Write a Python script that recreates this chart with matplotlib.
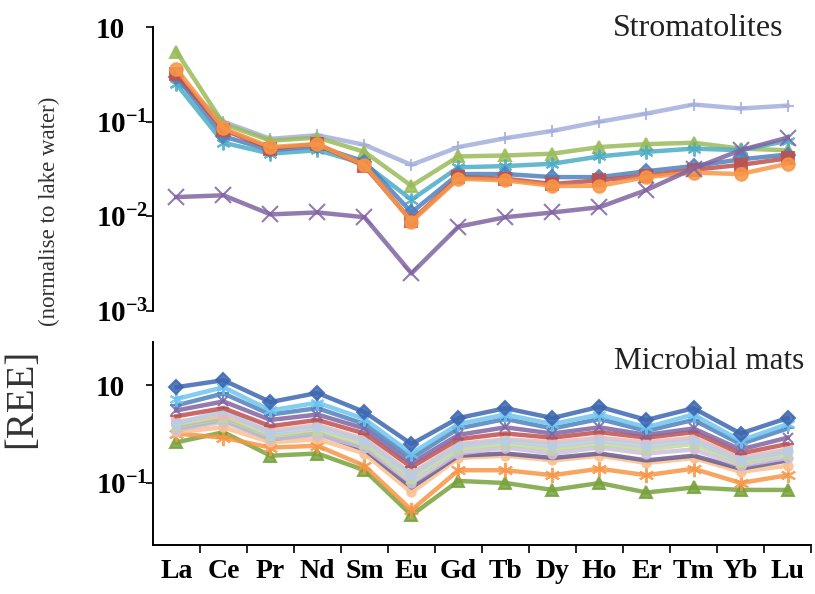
import matplotlib.pyplot as plt
from matplotlib.ticker import FixedLocator, NullLocator

plt.rcParams["font.family"] = ["Liberation Serif", "DejaVu Serif"]
plt.rcParams["mathtext.fontset"] = "custom"
plt.rcParams["mathtext.rm"] = "Liberation Serif"
plt.rcParams["mathtext.bf"] = "Liberation Serif:bold"

elements = ["La", "Ce", "Pr", "Nd", "Sm", "Eu", "Gd", "Tb", "Dy", "Ho", "Er", "Tm", "Yb", "Lu"]

# Stromatolites (normalised to lake water)
strom_lavender = [0.28, 0.10, 0.066, 0.072, 0.057, 0.035, 0.054, 0.067, 0.080, 0.100, 0.122, 0.152, 0.138, 0.148]
strom_green = [0.55, 0.095, 0.063, 0.068, 0.048, 0.021, 0.043, 0.044, 0.046, 0.054, 0.058, 0.060, 0.052, 0.050]
strom_aqua = [0.25, 0.060, 0.046, 0.050, 0.036, 0.015, 0.033, 0.034, 0.036, 0.043, 0.048, 0.052, 0.050, 0.063]
strom_blue = [0.30, 0.070, 0.050, 0.055, 0.038, 0.011, 0.028, 0.028, 0.026, 0.026, 0.030, 0.034, 0.040, 0.045]
strom_red = [0.32, 0.082, 0.052, 0.058, 0.034, 0.0090, 0.026, 0.025, 0.022, 0.024, 0.027, 0.031, 0.035, 0.041]
strom_orange = [0.36, 0.085, 0.054, 0.058, 0.035, 0.0088, 0.025, 0.024, 0.021, 0.021, 0.026, 0.029, 0.028, 0.036]
strom_purple = [0.016, 0.0167, 0.0105, 0.011, 0.0098, 0.0025, 0.0078, 0.0098, 0.011, 0.0125, 0.019, 0.032, 0.050, 0.068]

# Microbial mats
mat_navy = [0.95, 1.12, 0.67, 0.83, 0.53, 0.25, 0.46, 0.58, 0.46, 0.60, 0.44, 0.58, 0.32, 0.46]
mat_sky = [0.72, 0.95, 0.55, 0.66, 0.45, 0.20, 0.40, 0.50, 0.40, 0.50, 0.37, 0.50, 0.27, 0.40]
mat_blue = [0.62, 0.82, 0.50, 0.58, 0.40, 0.18, 0.36, 0.45, 0.36, 0.45, 0.34, 0.44, 0.25, 0.36]
mat_purple = [0.55, 0.68, 0.44, 0.50, 0.36, 0.16, 0.31, 0.37, 0.32, 0.37, 0.31, 0.36, 0.22, 0.29]
mat_red = [0.48, 0.58, 0.38, 0.44, 0.32, 0.145, 0.28, 0.32, 0.29, 0.33, 0.29, 0.33, 0.20, 0.25]
mat_paleblue = [0.40, 0.55, 0.32, 0.37, 0.27, 0.12, 0.24, 0.27, 0.24, 0.27, 0.24, 0.27, 0.17, 0.21]
mat_pink = [0.42, 0.50, 0.34, 0.39, 0.28, 0.125, 0.25, 0.28, 0.26, 0.29, 0.26, 0.29, 0.18, 0.22]
mat_lightgreen = [0.38, 0.46, 0.30, 0.34, 0.25, 0.11, 0.22, 0.25, 0.22, 0.25, 0.22, 0.25, 0.16, 0.20]
mat_lavender = [0.35, 0.42, 0.28, 0.31, 0.23, 0.10, 0.20, 0.23, 0.20, 0.23, 0.20, 0.22, 0.15, 0.18]
mat_darkpurple = [0.36, 0.44, 0.28, 0.32, 0.22, 0.09, 0.19, 0.20, 0.18, 0.20, 0.17, 0.19, 0.14, 0.17]
mat_peach = [0.33, 0.37, 0.26, 0.28, 0.20, 0.08, 0.18, 0.19, 0.17, 0.19, 0.16, 0.18, 0.13, 0.15]
mat_orange = [0.32, 0.29, 0.23, 0.24, 0.15, 0.053, 0.135, 0.135, 0.12, 0.14, 0.12, 0.14, 0.10, 0.12]
mat_green = [0.26, 0.33, 0.19, 0.20, 0.135, 0.047, 0.105, 0.10, 0.085, 0.10, 0.08, 0.09, 0.085, 0.085]

star = (6, 2, 0)
x = list(range(len(elements)))

fig = plt.figure(figsize=(8.15, 5.94), dpi=100)
ax1 = fig.add_axes([0.1877, 0.4764, 0.8074, 0.478])
ax2 = fig.add_axes([0.1877, 0.0825, 0.8074, 0.3418])

# top panel
top_series = [
    (strom_lavender, "#A4AEDC", "+", 9),
    (strom_green, "#9BBB59", "^", 9),
    (strom_aqua, "#4BACC6", star, 10),
    (strom_blue, "#4F81BD", "D", 7),
    (strom_red, "#C0504D", "s", 8),
    (strom_orange, "#F79646", "o", 9),
    (strom_purple, "#8064A2", "x", 11),
]
for vals, col, mk, ms in top_series:
    ax1.plot(x, vals, color=col, lw=3.2, alpha=0.85, marker=mk, ms=ms,
             mec=col, mfc=col, mew=1.5, solid_joinstyle="round")

ax1.set_yscale("log")
ax1.set_ylim(1e-3, 1e0)
ax1.set_xlim(-0.5, 13.5)
ax1.yaxis.set_major_locator(FixedLocator([1e0, 1e-1, 1e-2, 1e-3]))
ax1.yaxis.set_minor_locator(NullLocator())
ax1.set_yticklabels(["10", r"$\mathbf{10^{-1}}$", r"$\mathbf{10^{-2}}$", r"$\mathbf{10^{-3}}$"])
ax1.set_xticks([])
for s in ["top", "right", "bottom"]:
    ax1.spines[s].set_visible(False)
ax1.text(0.958, 1.045, "Stromatolites", transform=ax1.transAxes,
         ha="right", va="top", fontsize=23, color="#222222")

# bottom panel
bot_series = [
    (mat_green, "#77A33C", "^", 9),
    (mat_orange, "#F79646", star, 11),
    (mat_peach, "#FAC090", "o", 6),
    (mat_darkpurple, "#6A5A8E", None, 0),
    (mat_lavender, "#CCC1DA", "o", 6),
    (mat_lightgreen, "#C3D69B", "^", 6),
    (mat_pink, "#E6B9B8", "s", 6),
    (mat_paleblue, "#B9CDE5", "o", 6),
    (mat_red, "#C0504D", "_", 9),
    (mat_purple, "#8064A2", "x", 7),
    (mat_blue, "#4F81BD", "+", 8),
    (mat_sky, "#6EC3EE", star, 10),
    (mat_navy, "#3D67B1", "D", 7),
]
for vals, col, mk, ms in bot_series:
    ax2.plot(x, vals, color=col, lw=3.2, alpha=0.85, marker=mk, ms=ms,
             mec=col, mfc=col, mew=1.5, solid_joinstyle="round")

ax2.set_yscale("log")
ax2.set_ylim(0.0233, 2.75)
ax2.set_xlim(-0.5, 13.5)
ax2.yaxis.set_major_locator(FixedLocator([1e0, 1e-1]))
ax2.yaxis.set_minor_locator(NullLocator())
ax2.set_yticklabels(["10", r"$\mathbf{10^{-1}}$"])
ax2.set_xticks(x)
ax2.set_xticklabels(elements, fontweight="bold")
ax2.xaxis.set_minor_locator(FixedLocator([i + 0.5 for i in x]))
ax2.tick_params(axis="x", which="major", length=0, pad=10, labelsize=20)
ax2.tick_params(axis="x", which="minor", length=6, width=1.2)
for s in ["top", "right"]:
    ax2.spines[s].set_visible(False)
ax2.text(0.99, 0.975, "Microbial mats", transform=ax2.transAxes,
         ha="right", va="top", fontsize=22.5, color="#222222")

for ax in (ax1, ax2):
    ax.tick_params(axis="y", which="major", length=5, width=1.2, pad=36, labelsize=21)
    for lbl in ax.get_yticklabels():
        lbl.set_horizontalalignment("left")
        lbl.set_fontweight("bold")
    for s in ["left", "bottom"]:
        ax.spines[s].set_linewidth(1.4)

fig.text(0.027, 0.33, "[REE]", rotation=90, ha="center", va="center",
         fontsize=28, color="#333333")
fig.text(0.061, 0.645, "(normalise to lake water)", rotation=90,
         ha="center", va="center", fontsize=16.5, color="#333333")

fig.savefig("out.png", dpi=100)
